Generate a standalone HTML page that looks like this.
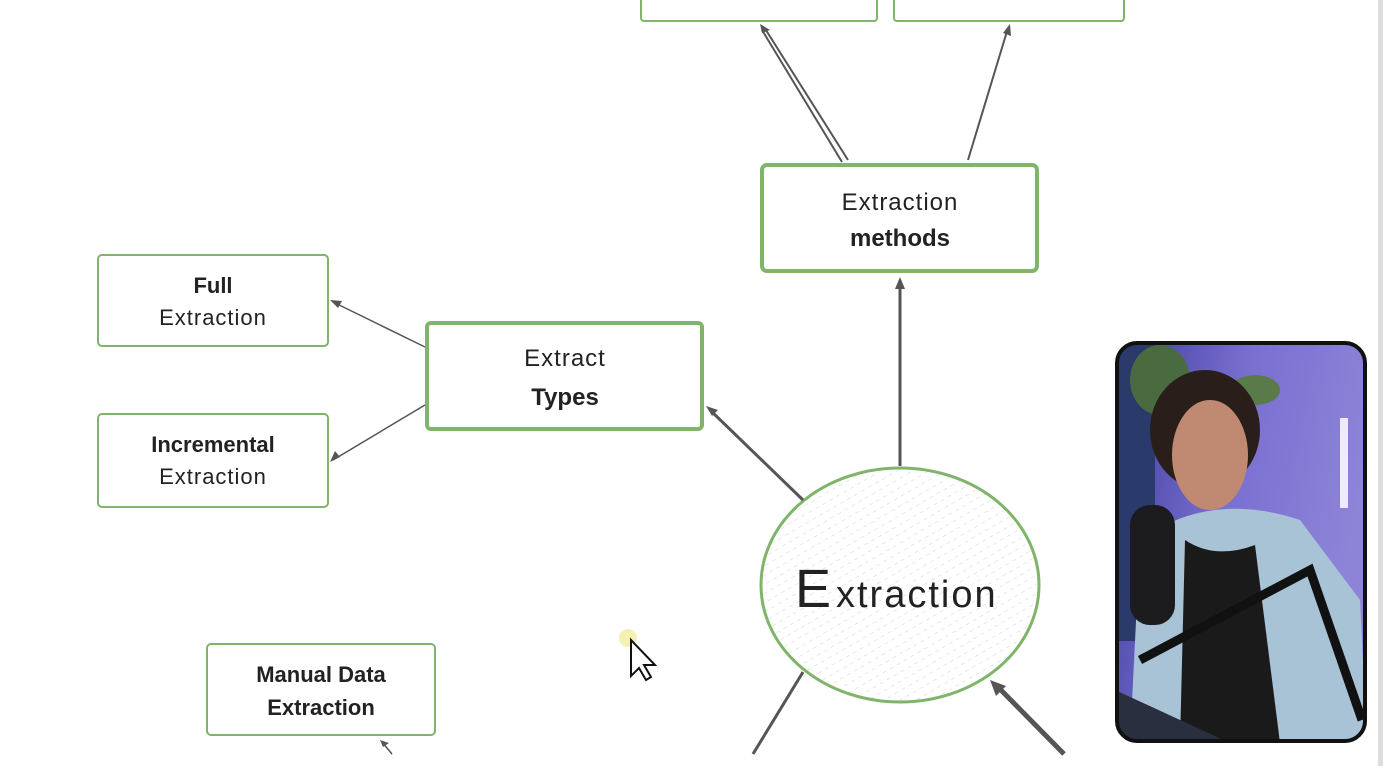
<!DOCTYPE html>
<html><head><meta charset="utf-8"><style>
body{margin:0;width:1383px;height:766px;overflow:hidden;background:#fff;font-family:"Liberation Sans",sans-serif}
svg text{font-family:"Liberation Sans",sans-serif;fill:#222}
</style></head><body>
<svg width="1383" height="766" viewBox="0 0 1383 766" xmlns="http://www.w3.org/2000/svg">
<defs>
<pattern id="hatch" width="8" height="8" patternUnits="userSpaceOnUse" patternTransform="rotate(60)">
<line x1="0" y1="0" x2="0" y2="4" stroke="#c9d9c0" stroke-width="1"/>
</pattern>
<linearGradient id="bg" x1="0" y1="0" x2="1" y2="0.3">
<stop offset="0" stop-color="#3b3c9a"/><stop offset="0.5" stop-color="#7a6fd0"/><stop offset="1" stop-color="#8d84d8"/>
</linearGradient>
<clipPath id="cam"><rect x="1117" y="343" width="248" height="398" rx="20"/></clipPath>
</defs>
<rect x="1378" y="0" width="5" height="766" fill="#ddd"/>
<g fill="none" stroke="#7fb46a" stroke-width="2">
<rect x="641" y="-20" width="236" height="41" rx="3"/>
<rect x="894" y="-20" width="230" height="41" rx="3"/>
<rect x="98" y="255" width="230" height="91" rx="4"/>
<rect x="98" y="414" width="230" height="93" rx="4"/>
<rect x="207" y="644" width="228" height="91" rx="4"/>
</g>
<g fill="none" stroke="#7fb46a" stroke-width="4">
<rect x="762" y="165" width="275" height="106" rx="5"/>
<rect x="427" y="323" width="275" height="106" rx="4"/>
</g>
<ellipse cx="900" cy="585" rx="139" ry="117" fill="url(#hatch)" stroke="#7fb46a" stroke-width="3"/>
<g stroke="#555" stroke-width="2" fill="none">
<path d="M848 160 L764 27 M842 162 L762 30"/>
<path d="M968 160 L1008 28"/>
<path d="M900 466 L900 280" stroke-width="3"/>
<path d="M803 500 L710 410" stroke-width="3"/>
<path d="M425 347 L333 302" stroke-width="1.5"/>
<path d="M425 405 L333 460" stroke-width="1.5"/>
<path d="M753 754 L803 672" stroke-width="3"/>
<path d="M1064 754 L996 685" stroke-width="5"/>
<path d="M392 754 L382 742" stroke-width="1.5"/>
</g>
<g fill="#555">
<path d="M760 24 l10 6 -8 3z"/><path d="M1010 24 l1 12 -8 -3z"/>
<path d="M900 277 l5 12 h-10z"/><path d="M706 406 l12 4 -6 6z"/>
<path d="M330 300 l12 1 -4 7z"/><path d="M330 462 l5 -11 5 6z"/>
<path d="M990 680 l16 6 -10 10z"/><path d="M380 740 l9 3 -6 4z"/>
</g>
<g text-anchor="middle" font-size="24">
<text x="900" y="210" letter-spacing="1">Extraction</text>
<text x="900" y="246" font-weight="bold">methods</text>
<text x="565" y="366" letter-spacing="1">Extract</text>
<text x="565" y="405" font-weight="bold">Types</text>
<text x="213" y="293" font-size="22" font-weight="bold">Full</text>
<text x="213" y="325" font-size="22" letter-spacing="1">Extraction</text>
<text x="213" y="452" font-size="22" font-weight="bold">Incremental</text>
<text x="213" y="484" font-size="22" letter-spacing="1">Extraction</text>
<text x="321" y="682" font-size="22" font-weight="bold">Manual Data</text>
<text x="321" y="715" font-size="22" font-weight="bold">Extraction</text>
</g>
<text x="795" y="607" font-size="54" fill="#111">E</text>
<text x="836" y="607" font-size="38" letter-spacing="2">xtraction</text>
<circle cx="628" cy="638" r="9" fill="#f3eea0" opacity="0.8"/>
<path d="M631 640 L631 676 L639 668 L646 680 L651 677 L644 665 L655 665 Z" fill="#fff" stroke="#111" stroke-width="2"/>
<g clip-path="url(#cam)">
<rect x="1115" y="341" width="252" height="402" fill="url(#bg)"/>
<rect x="1115" y="341" width="40" height="300" fill="#2a3a6a"/>
<ellipse cx="1160" cy="380" rx="30" ry="35" fill="#4a6a40"/>
<ellipse cx="1255" cy="390" rx="25" ry="15" fill="#5a7a4a"/>
<rect x="1340" y="418" width="8" height="90" fill="#f0eaff"/>
<ellipse cx="1205" cy="430" rx="55" ry="60" fill="#2a1e1a"/>
<ellipse cx="1210" cy="455" rx="38" ry="55" fill="#c08a72"/>
<path d="M1130 743 L1140 540 Q1210 490 1300 520 L1360 600 L1367 743Z" fill="#a9c3d6"/>
<path d="M1180 743 L1185 540 Q1215 560 1255 545 L1280 743Z" fill="#1a1a1a"/>
<rect x="1130" y="505" width="45" height="120" rx="20" fill="#1c1c1e"/>
<path d="M1140 660 L1310 570 L1362 720" stroke="#111" stroke-width="9" fill="none"/>
<path d="M1115 690 L1230 743 L1115 743Z" fill="#2a2f40"/>
</g>
<rect x="1117" y="343" width="248" height="398" rx="20" fill="none" stroke="#111" stroke-width="4"/>
</svg>
</body></html>
